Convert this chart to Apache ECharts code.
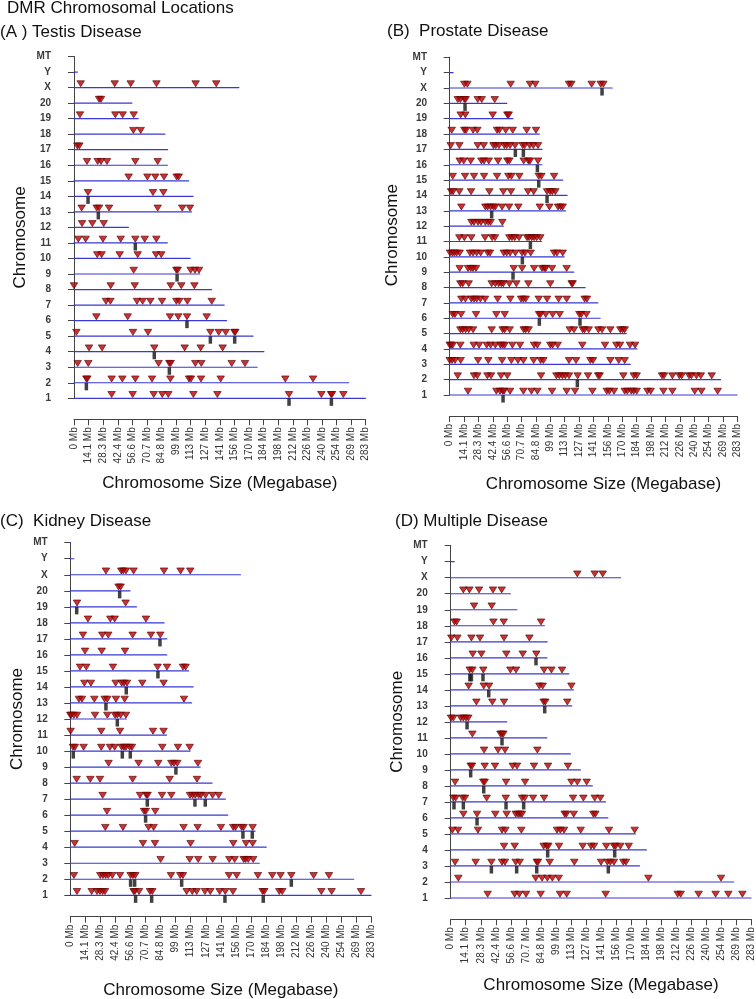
<!DOCTYPE html>
<html>
<head>
<meta charset="utf-8">
<title>DMR Chromosomal Locations</title>
<script src="https://cdn.jsdelivr.net/npm/echarts@6/dist/echarts.min.js"></script>
<style>
  html, body { margin: 0; padding: 0; background: #fff; }
  #chart { width: 756px; height: 999px; }
</style>
</head>
<body>
<div id="chart"></div>
<script>
// chromosome names, bottom (1) to top (MT)
const chromNames = ['1', '2', '3', '4', '5', '6', '7', '8', '9', '10', '11', '12', '13', '14', '15',
  '16', '17', '18', '19', '20', 'X', 'Y', 'MT']
// chromosome lengths in Mb, same order
const chromLengths = [282.76, 266.44, 177.70, 184.23, 173.71, 147.99, 145.73, 133.31, 122.10, 112.63,
  90.46, 52.72, 114.03, 115.49, 111.25, 90.67, 90.84, 88.20, 62.28, 56.21, 159.97, 3.31, 0.016]

const xTickStep = 14.15
const xTickLabels = ['0 Mb', '14.1 Mb', '28.3 Mb', '42.4 Mb', '56.6 Mb', '70.7 Mb', '84.8 Mb', '99 Mb',
  '113 Mb', '127 Mb', '141 Mb', '156 Mb', '170 Mb', '184 Mb', '198 Mb', '212 Mb', '226 Mb', '240 Mb',
  '254 Mb', '269 Mb', '283 Mb']

// DMR positions (Mb), one list per chromosome: 1 .. 20, X
const testisDmr = [
  [36.5, 56.9, 77.3, 85.7, 91.5, 115.8, 139.1, 208.6, 240, 249.4, 250.3, 261.3],
  [12, 12.9, 36.5, 46.9, 59.5, 75.7, 93.5, 111.6, 113.5, 123.2, 142.3, 205, 231.9],
  [3.6, 13.9, 82.1, 92.5, 93.8, 117.7, 123.5, 153, 165.9],
  [14.6, 27.2, 77.9, 107.4, 122.9, 144.2],
  [2.3, 57.2, 71.8, 132.3, 140.4, 147.2, 155.6, 156.5],
  [21.7, 52.1, 93.1, 101.2, 109.6, 128.7],
  [31, 35.3, 61.1, 66.6, 74.1, 85.4, 99.3, 102.2, 110, 133.6],
  [0, 35.6, 58.9, 93.8, 104.1, 116.8],
  [57.9, 99.3, 100.6, 113.2, 117.4, 121.3],
  [22.6, 26.8, 44.3, 61.8, 79.6, 84.7],
  [4.2, 11.3, 28.1, 45.3, 59.5, 68.6, 79.9],
  [7.8, 17.8, 28.8],
  [7.4, 22, 24.3, 34, 81.2, 105, 112.5],
  [13.6, 76.6, 86.7],
  [53, 71.2, 78.9, 87.3, 99.6, 101.6],
  [12.6, 23, 26.2, 32, 59.5, 81.2],
  [3.2, 5.2],
  [57.6, 64.7],
  [5.8, 40.1, 47.2, 57.9],
  [24.3, 26.2],
  [6.5, 39.5, 55, 80, 118, 138]
]
// black bars under the line (clustered DMR)
const testisBars = [
  [208.6, 249.7], [12], [92.5], [77.9], [132.3, 155.9], [109.6], [], [], [100], [], [59.5], [],
  [23.6], [13.6], [], [], [], [], [], [], []
]

const prostateDmr = [
  [18, 45.9, 49.5, 52.1, 53.5, 59.4, 72.5, 80.4, 86.3, 100.7, 115.1, 123.3, 140.4, 154.5, 157.1, 161.7,
    172.2, 174.8, 178.7, 181.1, 184, 194.5, 197.8, 210.3, 219.1, 241.1, 247.7, 263.7],
  [7.9, 23.9, 27.2, 37.1, 40.7, 50.5, 56.7, 89.9, 105, 107.9, 110.9, 113.8, 117.4, 125.9, 136.1, 146,
    147.6, 170.9, 181.1, 184, 208.9, 210.9, 219.1, 226, 228.3, 235.5, 237.8, 242.8, 247.1, 257.8],
  [0, 2.3, 5.2, 10.8, 27.9, 38, 51.5, 60.7, 67.2, 72.5, 82.6, 89.5, 92.2, 117.4, 124.3, 138.4, 141,
    158.1, 166.3, 172.2],
  [0, 1.3, 3, 10.5, 23.6, 28.9, 36.4, 40.3, 44.9, 49.9, 52.1, 54.1, 61.7, 69.2, 83, 86.3, 99, 101.3,
    106.3, 130.5, 152.8, 164, 167.6, 177.4, 182.4],
  [10.5, 12.8, 15.7, 18.7, 23, 41.3, 52.1, 54.1, 59, 72.8, 74.8, 77.7, 118.1, 122.3, 130.9, 132.8,
    136.8, 146.3, 149.9, 158.1, 167.9, 170.2, 172.2],
  [3, 5.2, 11.2, 25.9, 45.9, 54.1, 87.9, 89.5, 94.5, 101.3, 108.2, 127.6, 129.5, 134.5],
  [11.5, 15.4, 21.3, 23.9, 26.6, 30.2, 34.8, 47.2, 59.7, 70.2, 72.5, 74.8, 87.6, 95.8, 107.2, 115.1,
    132.8, 135.1],
  [10.5, 12.8, 18.7, 41.3, 44.9, 48.2, 50.8, 52.8, 58.7, 65.6, 77.4, 99, 120, 121],
  [9.8, 18, 20.7, 23, 25.9, 63, 71.2, 83, 90.8, 93.1, 94.5, 100.7, 115.1],
  [0.3, 2.6, 4.6, 6.9, 9.8, 20, 23, 26.6, 30.5, 37.4, 39.7, 53.1, 56.1, 59.4, 64.6, 71.2, 74.1, 79.7,
    102.7, 105.6, 111.2],
  [9.5, 14.4, 21.3, 34.8, 41.7, 44.6, 58.7, 61.3, 64, 68.2, 76.1, 78.1, 80.7, 83, 85.6, 89.2],
  [21.3, 23.9, 27.9, 30.8, 35.1, 38, 40.3, 51.8],
  [11.5, 35.1, 37.4, 40.3, 43, 44.9, 51.5, 58.4, 67.6, 88.6, 98.1, 106.6, 109.2, 111.2],
  [1.3, 3.3, 9.5, 21, 39, 52.8, 60.3, 77.1, 82.6, 95.8, 98.7, 101, 104],
  [3, 15.1, 23.9, 33.8, 46.6, 57.7, 60.7, 68.5, 87.6, 90.2, 102.7],
  [9.8, 13.8, 20.7, 31.2, 33.8, 38.4, 47.6, 56.7, 58.7, 72.8, 77.4, 79, 86.9],
  [1, 9.5, 27.6, 33.5, 43, 45.3, 48.5, 53.8, 56.1, 59.4, 64.3, 71.8, 73.8, 78.7, 82.3, 86.9],
  [2, 14.4, 16.1, 23, 27.2, 46.6, 48.9, 55.1, 62, 75.8, 84.9],
  [10.8, 15.4, 42.3, 56.7, 58.1],
  [7.9, 10.5, 14.4, 15.7, 27.6, 31.5, 44.3],
  [14.4, 17.4, 60, 79, 84.3, 117.4, 119.7, 139.7, 148.6, 151.2]
]
const prostateBars = [
  [52.5], [125.6], [], [], [], [88.2, 128.2], [], [], [62.3], [71.5], [79.4], [], [41.3], [95.8],
  [87.6], [86.3], [64.6, 72.5], [], [], [15.1], [149.9]
]

const kidneyDmr = [
  [6.3, 20.1, 25.1, 27.9, 30.4, 32.6, 59.5, 60.8, 64.6, 74.9, 77.1, 109.4, 114.7, 118.8, 126.6, 131.6,
    140.4, 145.7, 152.9, 180.8, 182.4, 196.5, 199.3, 236, 245.7, 273.3],
  [3.4, 28.2, 30.7, 33.2, 35.7, 39.5, 46.7, 56.7, 58.9, 61.1, 94.6, 103.4, 105.9, 149.2, 156.4, 176.4,
    189.9, 197.7, 207.8, 228.8, 243.2],
  [84.9, 112.2, 120.3, 133.8, 149.5, 154.5, 163, 164.8, 167.3, 172],
  [4.1, 68.3, 79.6, 113.1, 153.2, 165.2, 171.4],
  [32.9, 49.5, 73.6, 78.3, 106.5, 119.7, 141.6, 153.2, 155.4, 161.1, 162.9, 171.4],
  [34.5, 69.3, 71.1, 79.9],
  [30.4, 65.5, 71.5, 72.7, 86.2, 95, 112.5, 115, 117.5, 120.6, 122.8, 127.2, 133.8, 139.5],
  [6, 18.8, 27.9, 58.6, 93.4, 119.1],
  [36, 64.2, 82.7, 95, 97.5, 100.6, 120],
  [2.5, 4.4, 12.5, 29.1, 37.3, 41.7, 48.3, 50.5, 52.3, 55.8, 58, 86.5, 101.2, 112.2],
  [0.3, 29.1, 46.7, 77.7, 87.7],
  [0, 0.9, 3.4, 6.3, 23.2, 34.8, 42, 44.2, 47.3, 52.3],
  [8.1, 11, 22.6, 32.3, 34.8, 42.9, 51.1, 106.9],
  [13.2, 19.4, 42.6, 48.3, 50.5, 53.3, 67.7, 87.7],
  [9.1, 15, 40.1, 82.1, 90.9, 105.9, 108.4],
  [13.8, 29.5, 51.4],
  [11.9, 30.1, 35.7, 58.6, 75.8, 84.6],
  [16.6, 37.6, 41.7, 71.1],
  [6.3, 52],
  [45.4, 47.3],
  [33.5, 47.9, 49.8, 52.3, 59.5, 88.1, 103.7, 112.8]
]
const kidneyBars = [
  [61.4, 76.5, 145.4, 181.4], [56.7, 60.5, 104.7, 207.8], [], [], [162.3, 171.1], [70.8],
  [72.4, 117.2, 126.9], [], [99.3], [2.8, 48.9, 56.4], [], [44.2], [33.5], [52.6], [82.4], [],
  [84.3], [], [6], [46.4], []
]

const multipleDmr = [
  [34.8, 60.2, 64.6, 70.9, 84.7, 102.9, 109.2, 145.9, 213.7, 216.5, 233.4, 249.4, 261.4, 274.6],
  [7.2, 80, 86, 91, 95.7, 101.7, 186.1, 254.5],
  [4.1, 23.5, 38.3, 48.3, 51.1, 61.2, 65, 81, 82.2, 93.2, 116.4, 141.5, 147.5, 150.3, 153.7, 162.5, 165],
  [50.2, 60.2, 87.5, 90.4, 91.9, 102, 124.3, 132.1, 134.9, 146.5, 153.7, 155.3, 159.7, 167.6],
  [1.6, 6.9, 25.7, 48.3, 51.5, 66.5, 100.1, 103.2, 106.7, 122.4, 149, 173.2],
  [11.9, 24.8, 42, 52.7, 61.2, 63.4, 65.3, 67.1, 107.3, 108.9, 115.8, 134.3, 136.2],
  [2.5, 4.7, 11.3, 13.5, 33.9, 51.8, 67.1, 69.7, 77.5, 87.9, 115.2, 124.9, 135.6, 140.9],
  [4.1, 30.7, 32, 52.1, 70, 113.6, 119.2, 128],
  [18.8, 20.1, 32, 41.7, 58.4, 62.4, 78.4, 91.6, 110.4],
  [31.4, 44.6, 51.1, 81.6],
  [20.4, 46.8, 48.3, 49.6],
  [0.3, 2.5, 9.4, 11.9, 14.4, 16.6],
  [24.2, 39.2, 50.2, 87.5, 89.1, 109.8],
  [16.9, 31.1, 36.1, 83.5, 86.6, 113.6],
  [17.9, 20.4, 30.7, 56.2, 61.5, 87.9, 94.8, 104.8],
  [20.7, 28.9, 52.4, 67.8, 80.6],
  [0.6, 6.3, 19.5, 27.6, 50.2, 74.1],
  [3.5, 5.6, 40.2, 49.9, 85],
  [22, 38.6],
  [11.9, 17.6, 26.7, 39.8, 48],
  [119.2, 135.6, 143.1]
]
const multipleBars = [
  [], [], [38.3, 62.1, 81, 148.4], [91.3, 154.4], [], [24.8], [3.1, 11.9, 52.1, 68.7], [31.1], [18.8],
  [], [48.3], [15.4], [88.5], [35.8], [18, 19.5, 30.4], [80.3], [], [], [], [], []
]

const fontFamily = '"Liberation Sans", Arial, Helvetica, sans-serif'
const axisColor = '#444'

// panel layout (pixels)
const panels = [
  {
    title: '(A ) Testis Disease', dmr: testisDmr, bars: testisBars,
    titleLeft: 0, titleTop: 24,
    grid: { left: 74, top: 56.5, width: 291.7, height: 341.8 },
    yOffset: 12, xOffset: 21, yNameGap: 33, yNamePad: [0, 20, 0, 0], xNameGap: 56, xNamePad: [0, 0, 0, 0]
  },
  {
    title: '(B)  Prostate Disease', dmr: prostateDmr, bars: prostateBars,
    titleLeft: 387, titleTop: 23,
    grid: { left: 449.7, top: 57.3, width: 287.6, height: 337.7 },
    yOffset: 11.7, xOffset: 21, yNameGap: 37, yNamePad: [0, 18, 0, 0], xNameGap: 60, xNamePad: [0, 0, 0, 20]
  },
  {
    title: '(C)  Kidney Disease', dmr: kidneyDmr, bars: kidneyBars,
    titleLeft: 0, titleTop: 513,
    grid: { left: 70.3, top: 542.7, width: 301, height: 352.6 },
    yOffset: 11.6, xOffset: 21.4, yNameGap: 33, yNamePad: [0, 0, 0, 0], xNameGap: 65, xNamePad: [0, 0, 0, 0]
  },
  {
    title: '(D) Multiple Disease', dmr: multipleDmr, bars: multipleBars,
    titleLeft: 395, titleTop: 513,
    grid: { left: 450.7, top: 545.7, width: 300.6, height: 352.3 },
    yOffset: 12, xOffset: 21.3, yNameGap: 33, yNamePad: [0, 0, 0, 0], xNameGap: 58, xNamePad: [0, 0, 0, 0]
  }
]

/**
 * per-chromosome lists -> [mb, chromIndex] points
 */
const toPoints = (lists) => {
  const points = []
  lists.forEach((positions, i) => {
    positions.forEach(mb => points.push([mb, i + 1]))
  })
  return points
}

const titleStyle = { fontFamily, fontSize: 17, fontWeight: 'normal', color: '#111' }

const option = {
  animation: false,
  backgroundColor: '#fff',
  title: [{
    text: 'DMR Chromosomal Locations',
    left: 7,
    top: 0,
    padding: 0,
    textStyle: titleStyle
  }],
  grid: [],
  xAxis: [],
  yAxis: [],
  series: []
}

panels.forEach((p, i) => {
  option.title.push({
    text: p.title,
    left: p.titleLeft,
    top: p.titleTop,
    padding: 0,
    textStyle: titleStyle
  })

  option.grid.push(Object.assign({ outerBoundsMode: 'none', containLabel: false }, p.grid))

  option.xAxis.push({
    type: 'value',
    gridIndex: i,
    position: 'bottom',
    min: 0,
    max: 283,
    interval: xTickStep,
    offset: p.xOffset,
    axisLine: { show: true, lineStyle: { color: axisColor, width: 1 } },
    axisTick: { show: true, length: 6, lineStyle: { color: axisColor } },
    axisLabel: {
      rotate: 90,
      margin: 8,
      fontSize: 10,
      fontFamily,
      color: '#333',
      hideOverlap: false,
      formatter: (v) => xTickLabels[Math.round(v / xTickStep)]
    },
    splitLine: { show: false },
    name: 'Chromosome Size (Megabase)',
    nameLocation: 'middle',
    nameGap: p.xNameGap,
    nameMoveOverlap: false,
    nameTextStyle: { fontFamily, fontSize: 17, color: '#111', padding: p.xNamePad }
  })

  option.yAxis.push({
    type: 'value',
    gridIndex: i,
    position: 'left',
    min: 1,
    max: 23,
    interval: 1,
    offset: p.yOffset,
    axisLine: { show: true, lineStyle: { color: axisColor, width: 1 } },
    axisTick: { show: true, length: 6, lineStyle: { color: axisColor } },
    axisLabel: {
      margin: 11,
      fontSize: 10,
      fontWeight: 'bold',
      fontFamily,
      color: '#3a3a3a',
      formatter: (v) => chromNames[v - 1]
    },
    splitLine: { show: false },
    name: 'Chromosome',
    nameLocation: 'middle',
    nameRotate: 90,
    nameGap: p.yNameGap,
    nameMoveOverlap: false,
    nameTextStyle: { fontFamily, fontSize: 17, color: '#111', padding: p.yNamePad }
  })

  // chromosome lines
  option.series.push({
    type: 'custom',
    xAxisIndex: i,
    yAxisIndex: i,
    silent: true,
    clip: false,
    z: 2,
    data: chromLengths.map((len, k) => [len, k + 1]),
    renderItem: (params, api) => {
      const y = api.value(1)
      const start = api.coord([0, y])
      const end = api.coord([api.value(0), y])
      return {
        type: 'line',
        shape: { x1: start[0], y1: start[1], x2: end[0], y2: end[1] },
        style: { stroke: '#3838d4', lineWidth: 1.2, lineCap: 'round' }
      }
    }
  })

  // black bars below the line
  option.series.push({
    type: 'scatter',
    xAxisIndex: i,
    yAxisIndex: i,
    silent: true,
    z: 3,
    symbol: 'rect',
    symbolSize: [3.5, 7.5],
    symbolOffset: [0, 3.8],
    itemStyle: { color: '#111' },
    data: toPoints(p.bars)
  })

  // red triangles above the line
  option.series.push({
    type: 'scatter',
    xAxisIndex: i,
    yAxisIndex: i,
    silent: true,
    z: 4,
    symbol: 'path://M0,0L10,0L5,9Z',
    symbolSize: [7.5, 6],
    symbolOffset: [0, -3.8],
    itemStyle: { color: '#bd0000', borderColor: '#580000', borderWidth: 0.8 },
    data: toPoints(p.dmr)
  })
})

const chart = echarts.init(document.getElementById('chart'))
chart.setOption(option)
</script>
</body>
</html>
